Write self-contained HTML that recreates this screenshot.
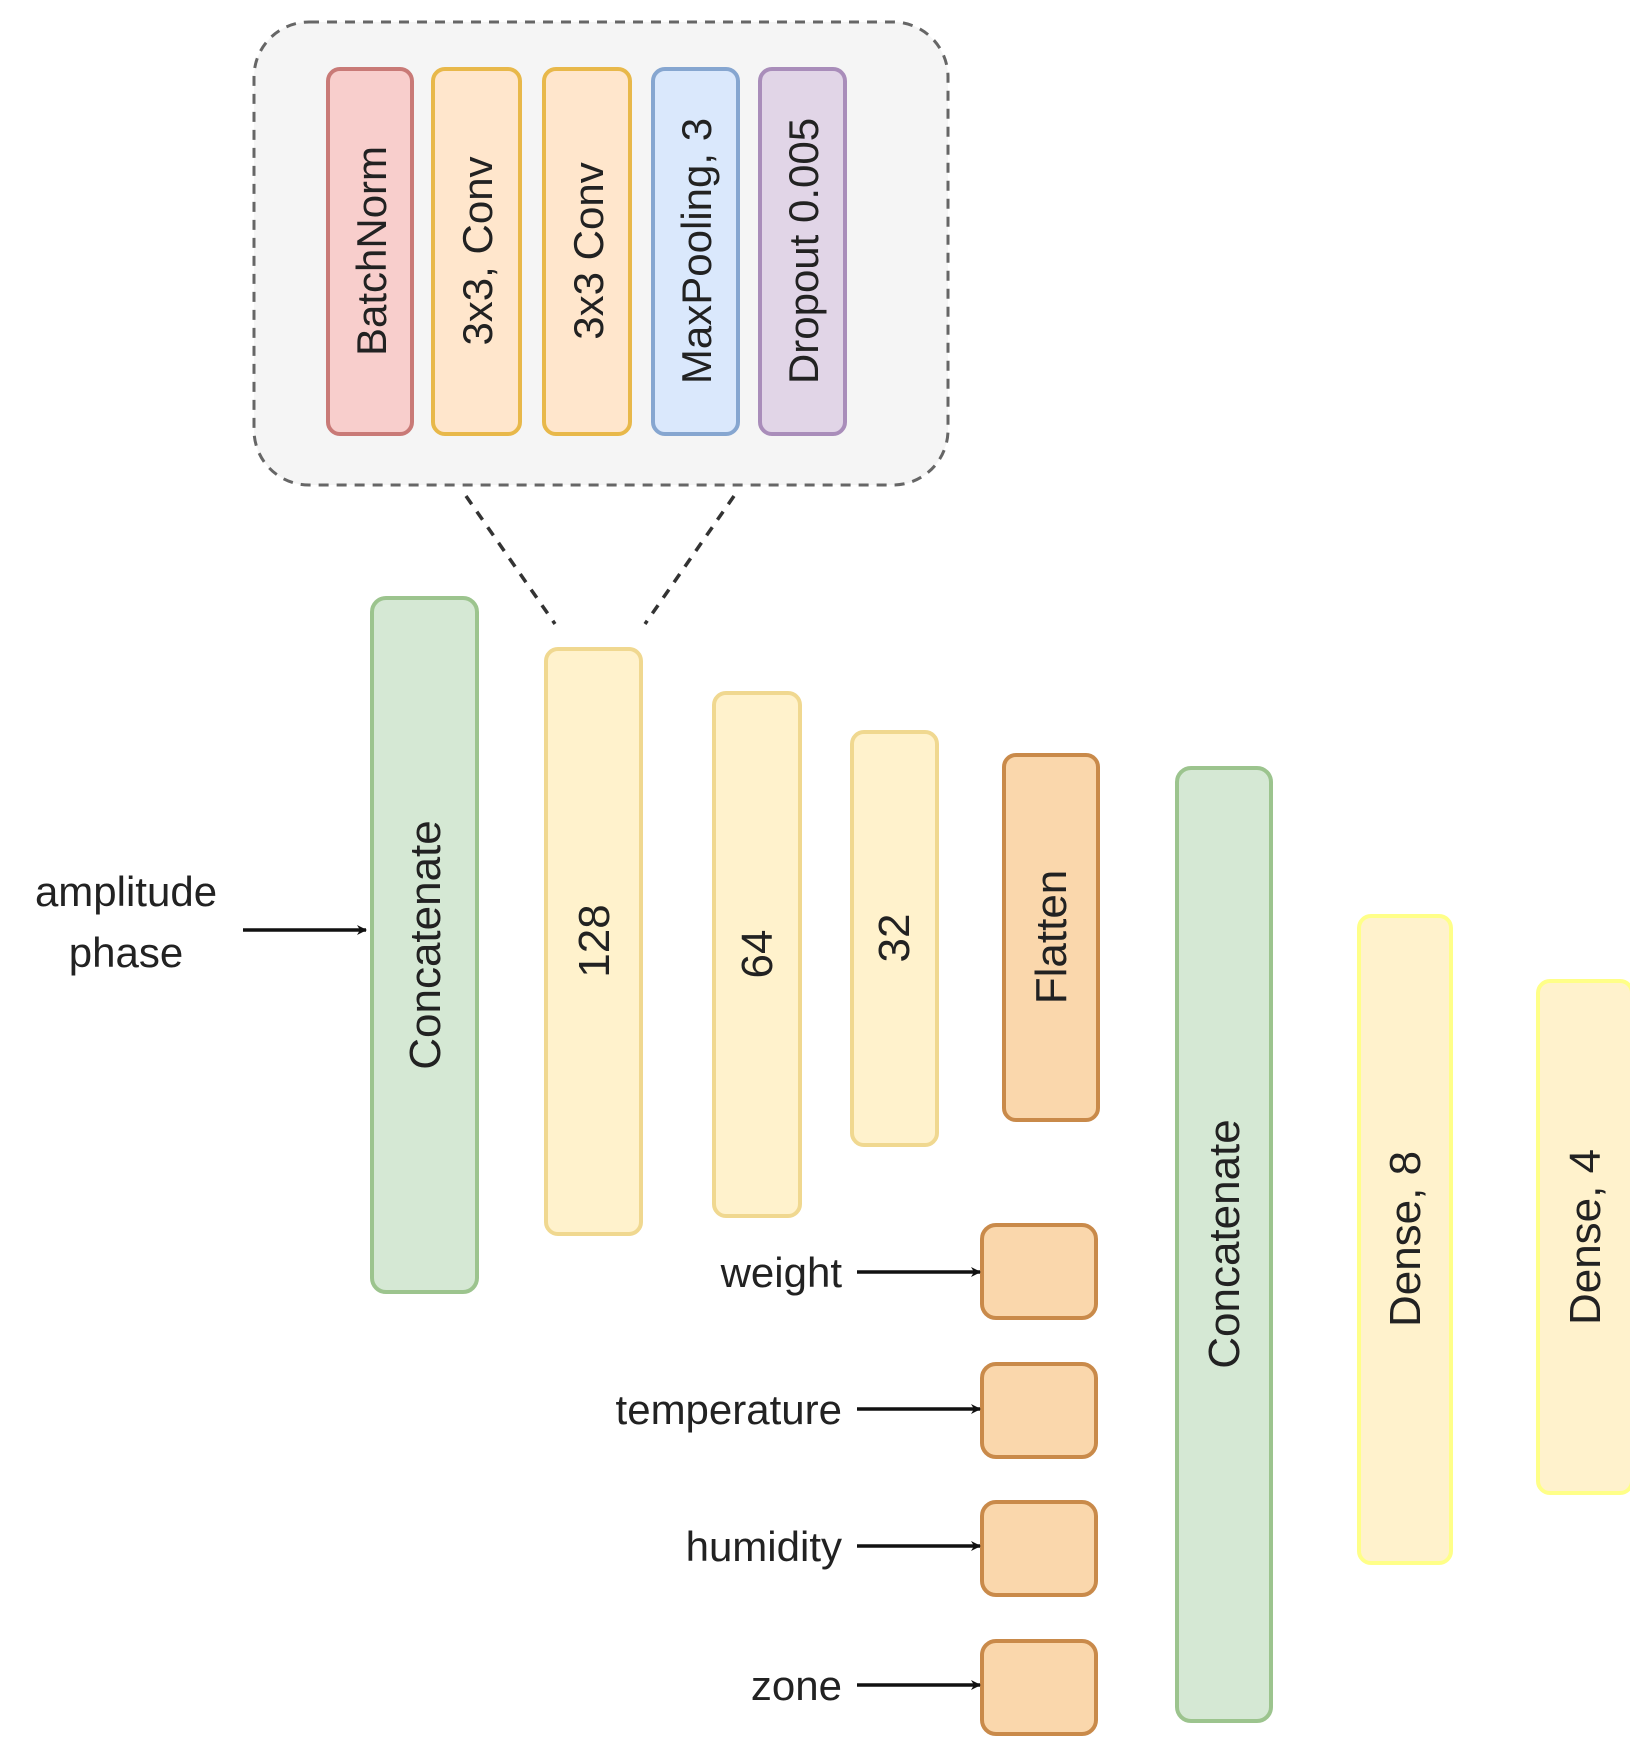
<!DOCTYPE html>
<html><head><meta charset="utf-8"><style>html,body{margin:0;padding:0;background:#fff}svg{display:block}</style></head>
<body>
<svg width="1630" height="1738" viewBox="0 0 1630 1738" xmlns="http://www.w3.org/2000/svg" font-family="Liberation Sans, Arial, sans-serif" fill="#222">
<defs>
<marker id="ah" markerWidth="10" markerHeight="10" refX="9" refY="5" orient="auto" markerUnits="userSpaceOnUse" viewBox="0 0 10 10">
<path d="M0,0 L10,5 L0,10 L3,5 z" fill="#111"/>
</marker>
</defs>
<rect x="254" y="22" width="694" height="463" rx="55" fill="#f5f5f5" stroke="#666" stroke-width="3" stroke-dasharray="10,8"/>
<g stroke-width="4">
<rect x="328" y="69" width="84" height="365" rx="12" fill="#f8cecc" stroke="#c97a77"/>
<rect x="433" y="69" width="87" height="365" rx="12" fill="#ffe6cc" stroke="#e8b84a"/>
<rect x="544" y="69" width="86" height="365" rx="12" fill="#ffe6cc" stroke="#e8b84a"/>
<rect x="653" y="69" width="85" height="365" rx="12" fill="#dae8fc" stroke="#86a6d0"/>
<rect x="760" y="69" width="85" height="365" rx="12" fill="#e1d5e7" stroke="#a98dba"/>
</g>
<g font-size="42" text-anchor="middle">
<text transform="translate(386,251) rotate(-90)">BatchNorm</text>
<text transform="translate(492,251) rotate(-90)">3x3, Conv</text>
<text transform="translate(603,251) rotate(-90)">3x3 Conv</text>
<text transform="translate(711,251) rotate(-90)">MaxPooling, 3</text>
<text transform="translate(818,251) rotate(-90)">Dropout 0.005</text>
</g>
<g stroke="#333" stroke-width="3.5" stroke-dasharray="10,9">
<line x1="466" y1="496" x2="555" y2="624"/>
<line x1="734" y1="496" x2="645" y2="624"/>
</g>
<g stroke-width="4">
<rect x="372" y="598" width="105" height="694" rx="14" fill="#d5e8d4" stroke="#9cc48e"/>
<rect x="546" y="649" width="95" height="585" rx="12" fill="#fff2cc" stroke="#f0d890"/>
<rect x="714" y="693" width="86" height="523" rx="12" fill="#fff2cc" stroke="#f0d890"/>
<rect x="852" y="732" width="85" height="413" rx="12" fill="#fff2cc" stroke="#f0d890"/>
<rect x="1004" y="755" width="94" height="365" rx="12" fill="#fad7ac" stroke="#c98a4a"/>
<rect x="1177" y="768" width="94" height="953" rx="14" fill="#d5e8d4" stroke="#9cc48e"/>
<rect x="1359" y="916" width="92" height="647" rx="12" fill="#fff2cc" stroke="#ffff88"/>
<rect x="1538" y="981" width="94" height="512" rx="12" fill="#fff2cc" stroke="#ffff88"/>
<rect x="982" y="1225" width="114" height="93" rx="14" fill="#fad7ac" stroke="#c98a4a"/>
<rect x="982" y="1364" width="114" height="93" rx="14" fill="#fad7ac" stroke="#c98a4a"/>
<rect x="982" y="1502" width="114" height="93" rx="14" fill="#fad7ac" stroke="#c98a4a"/>
<rect x="982" y="1641" width="114" height="93" rx="14" fill="#fad7ac" stroke="#c98a4a"/>
</g>
<g font-size="44" text-anchor="middle">
<text transform="translate(440,945) rotate(-90)">Concatenate</text>
<text transform="translate(609,941) rotate(-90)">128</text>
<text transform="translate(772,954) rotate(-90)">64</text>
<text transform="translate(909,938) rotate(-90)">32</text>
<text transform="translate(1066,937) rotate(-90)">Flatten</text>
<text transform="translate(1239,1244) rotate(-90)">Concatenate</text>
<text transform="translate(1420,1239) rotate(-90)">Dense, 8</text>
<text transform="translate(1600,1237) rotate(-90)">Dense, 4</text>
</g>
<g font-size="42">
<text x="126" y="906" text-anchor="middle">amplitude</text>
<text x="126" y="967" text-anchor="middle">phase</text>
<text x="842" y="1287" text-anchor="end">weight</text>
<text x="842" y="1424" text-anchor="end">temperature</text>
<text x="842" y="1561" text-anchor="end">humidity</text>
<text x="842" y="1700" text-anchor="end">zone</text>
</g>
<g stroke="#111" stroke-width="3.5" marker-end="url(#ah)">
<line x1="243" y1="930" x2="366" y2="930"/>
<line x1="857" y1="1272" x2="980" y2="1272"/>
<line x1="857" y1="1409" x2="980" y2="1409"/>
<line x1="857" y1="1546" x2="980" y2="1546"/>
<line x1="857" y1="1685" x2="980" y2="1685"/>
</g>
</svg>
</body></html>
